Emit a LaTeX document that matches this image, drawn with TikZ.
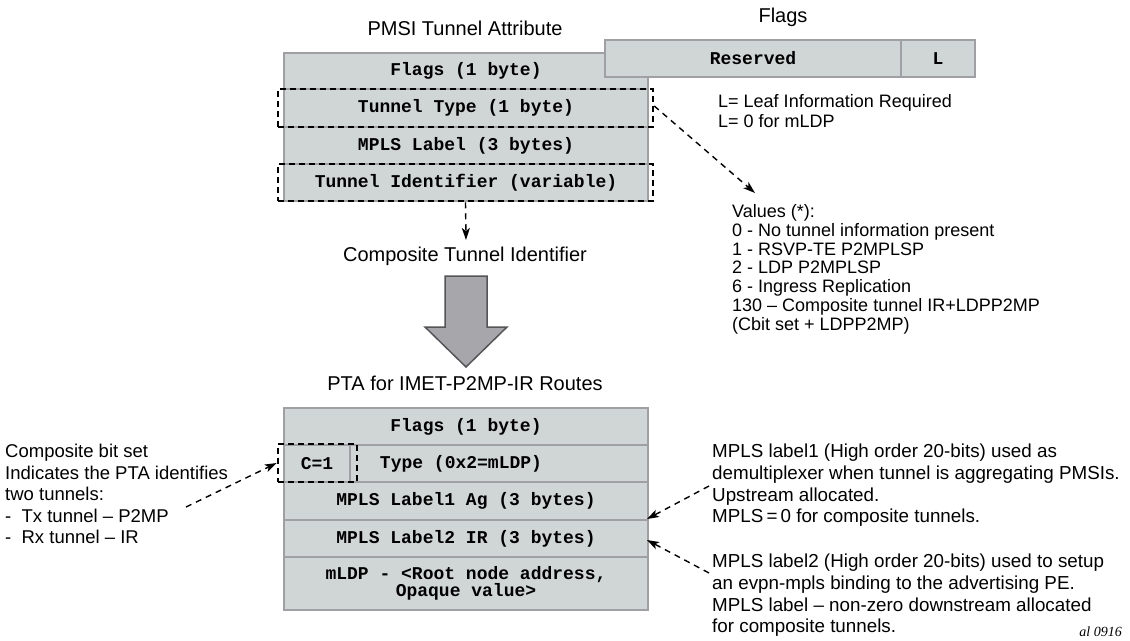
\documentclass[tikz,border=0pt]{standalone}
\usepackage{fontspec}
\setmainfont{Liberation Sans}
\setmonofont{Liberation Mono}
\newfontfamily\serifit{Liberation Serif}
\usetikzlibrary{arrows.meta}
\definecolor{cellfill}{RGB}{208,213,213}
\definecolor{cellline}{RGB}{160,160,164}
\definecolor{bigfill}{RGB}{167,167,171}
\definecolor{bigline}{RGB}{85,85,88}
\tikzset{
  cell/.style={draw=cellline, fill=cellfill, line width=2.5pt, inner sep=0pt, font=\fontsize{18}{17}\selectfont\ttfamily\bfseries, align=center},
  dbox/.style={draw=black, line width=2.5pt, dash pattern=on 6pt off 4pt, inner sep=0pt},
  conn/.style={draw=black, line width=1.4pt, dash pattern=on 6pt off 5pt, -{Stealth[length=12pt,width=8pt,inset=3pt]}},
  title/.style={font=\fontsize{20}{22}\selectfont, inner sep=0pt},
  body/.style={font=\fontsize{18}{20}\selectfont, inner sep=0pt, align=left},
}
\begin{document}
\begin{tikzpicture}[x=1pt,y=-1pt]
\useasboundingbox (0,0) rectangle (1130,640);
% ---- top table
\node[title] (pmsi) at (465,28) {PMSI Tunnel Attribute};
\node[cell, minimum width=364pt, minimum height=36pt] (tflags) at (466,71) {Flags (1 byte)};
\node[cell, minimum width=364pt, minimum height=38pt] (ttype) at (466,108) {Tunnel Type (1 byte)};
\node[cell, minimum width=364pt, minimum height=37pt] (tlabel) at (466,145.5) {MPLS Label (3 bytes)};
\node[cell, minimum width=364pt, minimum height=37pt] (tid) at (466,182.5) {Tunnel Identifier (variable)};
\node[dbox, minimum width=375pt, minimum height=38pt] (ttbox) at (465.5,108) {};
\node[dbox, minimum width=375pt, minimum height=37pt] (tibox) at (465.5,182.5) {};
% ---- flags
\node[title] (flagst) at (783,17) {Flags};
\node[cell, minimum width=296pt, minimum height=37pt] (res) at (753,58.5) {Reserved};
\node[cell, minimum width=74pt, minimum height=37pt] (lbit) at (938,58.5) {L};
\node[body, anchor=north west] (leaf) at (718,94) {L= Leaf Information Required\\L= 0 for mLDP};
% ---- values
\node[body, anchor=north west, font=\fontsize{18}{18.9}\selectfont] (vals) at (732,204) {Values (*):\\0 - No tunnel information present\\1 - RSVP-TE P2MPLSP\\2 - LDP P2MPLSP\\6 - Ingress Replication\\130 -- Composite tunnel IR+LDPP2MP\\(Cbit set + LDPP2MP)};
\coordinate (valtip) at (755,193);
\draw[conn] ([yshift=2pt]ttbox.east) -- (valtip);
% ---- composite
\node[title] (cti) at (465,256) {Composite Tunnel Identifier};
\coordinate (ctitop) at (466,240);
\draw[conn] (tibox.south) -- (ctitop);
\draw[fill=bigfill, draw=bigline, line width=1.5pt, line join=miter]
  (445,276) -- (487,276) -- (487,327) -- (507,327) -- (466,367) -- (425,327) -- (445,327) -- cycle;
% ---- bottom table
\node[title] (pta) at (465,383) {PTA for IMET-P2MP-IR Routes};
\node[cell, minimum width=364pt, minimum height=37pt] (bflags) at (466,426.5) {Flags (1 byte)};
\node[cell, minimum width=66pt, minimum height=37pt] (cbit) at (317,463.5) {C=1};
\node[cell, minimum width=298pt, minimum height=37pt] (btype) at (499,463.5) {};
\node[font=\fontsize{18}{17}\selectfont\ttfamily\bfseries, inner sep=0pt] (btypet) at (461,463.5) {Type (0x2=mLDP)};
\node[cell, minimum width=364pt, minimum height=38pt] (blab1) at (466,501) {MPLS Label1 Ag (3 bytes)};
\node[cell, minimum width=364pt, minimum height=37pt] (blab2) at (466,538.5) {MPLS Label2 IR (3 bytes)};
\node[cell, minimum width=364pt, minimum height=53pt] (bmldp) at (466,583.5) {mLDP - <Root node address,\\Opaque value>};
\node[dbox, minimum width=79pt, minimum height=38pt] (cbox) at (317.5,463) {};
% ---- left note
\node[body, anchor=north west, font=\fontsize{18.5}{21.5}\selectfont] (lnote) at (5,444) {Composite bit set\\Indicates the PTA identifies\\two tunnels:\\-\ \ Tx tunnel -- P2MP\\-\ \ Rx tunnel -- IR};
\coordinate (lstart) at (186,507);
\draw[conn] (lstart) -- (cbox.west);
% ---- right notes
\node[body, anchor=north west, font=\fontsize{18.8}{21.7}\selectfont] (rnote1) at (712,444) {MPLS label1 (High order 20-bits) used as\\demultiplexer when tunnel is aggregating PMSIs.\\Upstream allocated.\\MPLS\,=\,0 for composite tunnels.};
\node[body, anchor=north west, font=\fontsize{18.8}{21.7}\selectfont] (rnote2) at (712,554) {MPLS label2 (High order 20-bits) used to setup\\an evpn-mpls binding to the advertising PE.\\MPLS label -- non-zero downstream allocated\\for composite tunnels.};
\coordinate (r1start) at (709,486);
\coordinate (r1tip) at (647,519);
\coordinate (r2start) at (709,573);
\coordinate (r2tip) at (647,540);
\draw[conn] (r1start) -- (r1tip);
\draw[conn] (r2start) -- (r2tip);
\node[font=\fontsize{14}{16}\selectfont\serifit\itshape, anchor=base east, inner sep=0pt] (al) at (1122,636) {al\ 0916};
\end{tikzpicture}
\end{document}
